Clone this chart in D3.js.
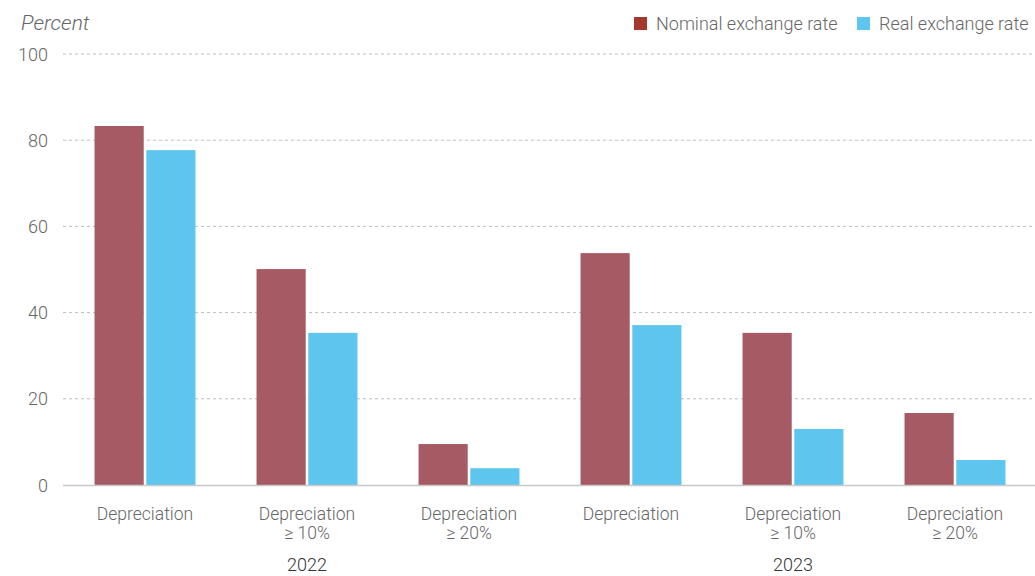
<!DOCTYPE html>
<html>
<head>
<meta charset="utf-8">
<script src="https://cdn.jsdelivr.net/npm/d3@7"></script>
<style>
  body { margin: 0; background: #fff; }
  svg { display: block; font-family: Roboto, "Liberation Sans", sans-serif; font-weight: 300; }
</style>
</head>
<body>
<svg id="chart" width="1035" height="576"></svg>
<script>
// chart values
var categories = ['2022a', '2022b', '2022c', '2023a', '2023b', '2023c']
var catLabels  = [['Depreciation'], ['Depreciation', '\u2265 10%'], ['Depreciation', '\u2265 20%'],
                  ['Depreciation'], ['Depreciation', '\u2265 10%'], ['Depreciation', '\u2265 20%']]
var years      = ['2022', '2023']
var nominal    = [83.3, 50.1, 9.5, 53.8, 35.3, 16.7]
var real       = [77.7, 35.3, 3.9, 37.1, 13.0, 5.8]
var yTicks     = [0, 20, 40, 60, 80, 100]
var seriesNames = ['Nominal exchange rate', 'Real exchange rate']

var red  = '#a65a63'
var blue = '#5ec5ee'

var svg = d3.select('#chart')

var x = d3.scaleBand()
    .domain(categories)
    .range([64, 1036])
    .paddingInner(0.377)
    .paddingOuter(0.1885)

var xs = d3.scaleBand()
    .domain([0, 1])
    .range([0, x.bandwidth()])
    .paddingInner(0.05)

var y = d3.scaleLinear()
    .domain([0, 100])
    .range([485, 54])

// grid lines
svg.append('g')
    .selectAll('line')
    .data(yTicks.filter(function(d) { return d > 0 }))
    .join('line')
    .attr('x1', 63)
    .attr('x2', 1035)
    .attr('y1', function(d) { return y(d) })
    .attr('y2', function(d) { return y(d) })
    .style('stroke', '#bdbdbd')
    .style('stroke-dasharray', '3,3')

// y axis labels
svg.append('g')
    .selectAll('text')
    .data(yTicks)
    .join('text')
    .attr('x', 48)
    .attr('y', function(d) { return y(d) + 6.5 })
    .attr('text-anchor', 'end')
    .style('font-size', '18px')
    .style('fill', '#666')
    .text(function(d) { return d })

svg.append('text')
    .attr('x', 21)
    .attr('y', 30)
    .style('font-size', '21px')
    .style('font-style', 'italic')
    .style('fill', '#666')
    .text('Percent')

// bars
var groups = svg.append('g')
    .selectAll('g')
    .data(categories)
    .join('g')
    .attr('transform', function(d) { return 'translate(' + x(d) + ',0)' })

groups.append('rect')
    .attr('x', xs(0))
    .attr('width', xs.bandwidth())
    .attr('y', function(d, i) { return y(nominal[i]) })
    .attr('height', function(d, i) { return y(0) - y(nominal[i]) })
    .attr('fill', red)

groups.append('rect')
    .attr('x', xs(1))
    .attr('width', xs.bandwidth())
    .attr('y', function(d, i) { return y(real[i]) })
    .attr('height', function(d, i) { return y(0) - y(real[i]) })
    .attr('fill', blue)

// zero line
svg.append('line')
    .attr('x1', 63)
    .attr('x2', 1035)
    .attr('y1', y(0) + 0.5)
    .attr('y2', y(0) + 0.5)
    .style('stroke', '#c8c8c8')
    .style('stroke-width', 1.5)

// category labels, one text per line
groups.each(function(d, i) {
    d3.select(this).selectAll('text.cat')
        .data(catLabels[i])
        .join('text')
        .attr('class', 'cat')
        .attr('text-anchor', 'middle')
        .attr('x', x.bandwidth() / 2)
        .attr('y', function(t, j) { return 520 + j * 18.5 })
        .style('font-size', '17.5px')
        .style('fill', '#666')
        .text(function(t) { return t })
})

// year labels, under the middle bar of each three
svg.append('g')
    .selectAll('text')
    .data(years)
    .join('text')
    .attr('x', function(d, i) { return x(categories[i * 3 + 1]) + x.bandwidth() / 2 })
    .attr('y', 571)
    .attr('text-anchor', 'middle')
    .style('font-size', '18px')
    .style('fill', '#333')
    .text(function(d) { return d })

// legend
var legend = svg.append('g')
var legX = [634, 857]
var legColors = ['#a3382f', blue]

legend.selectAll('rect')
    .data(seriesNames)
    .join('rect')
    .attr('x', function(d, i) { return legX[i] })
    .attr('y', 17)
    .attr('width', 13)
    .attr('height', 13)
    .attr('fill', function(d, i) { return legColors[i] })

legend.selectAll('text')
    .data(seriesNames)
    .join('text')
    .attr('x', function(d, i) { return legX[i] + 22 })
    .attr('y', 29.5)
    .style('font-size', '18px')
    .style('fill', '#666')
    .text(function(d) { return d })
</script>
</body>
</html>
